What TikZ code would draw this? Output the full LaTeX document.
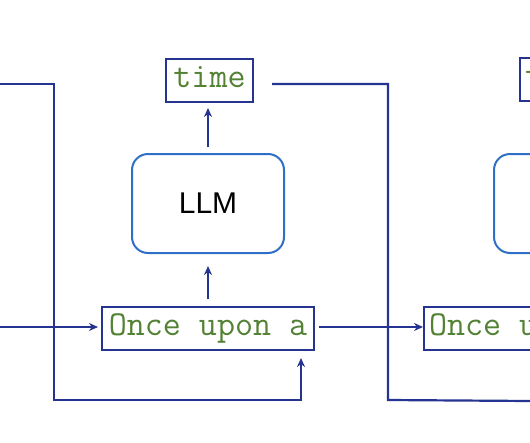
\documentclass[tikz,border=0pt]{standalone}
\usepackage{fontspec}
\setmainfont{Liberation Sans}
\setsansfont{Liberation Sans}
\definecolor{lnblue}{RGB}{38,52,145}
\definecolor{llmblue}{RGB}{46,112,200}
\definecolor{tokgreen}{RGB}{84,130,53}
\usetikzlibrary{arrows.meta,positioning}

\begin{document}
\begin{tikzpicture}[x=1pt,y=-1pt,
  token/.style={draw=lnblue,line width=2pt,inner xsep=5pt,inner ysep=0pt,minimum height=43pt,text height=22pt,text depth=8pt,font=\fontsize{35}{35}\ttfamily,text=tokgreen},
  model/.style={draw=llmblue,line width=2pt,rounded corners=16pt,minimum width=152pt,minimum height=99pt,font=\fontsize{30}{30}\sffamily},
  link/.style={draw=lnblue,line width=2.2pt},
  arr/.style={link,-{Stealth[length=9pt,width=8pt]}}]
  \useasboundingbox (0,0) rectangle (530,442);
  \clip (0,0) rectangle (530,442);
  % First step
  \node[token,minimum width=212pt] (prompt1) at (208,328.5) {Once upon a};
  \node[model] (llm1) at (208,203.5) {LLM};
  \node[token,minimum width=87pt] (time1) at (209.5,80.5) {time};
  % Next step (cut off at the right)
  \node[token,anchor=west] (prompt2) at (423,328.5) {\makebox[286pt][l]{Once u}};
  \node[model,anchor=west] (llm2) at (493,203.5) {};
  \node[token,anchor=west] (time2) at (519,79.5) {\makebox[80pt][l]{t}};
  % Free ends
  \coordinate (inL) at (0,327);
  \coordinate (fbL) at (0,84);
  \coordinate (fbLturn) at (54,400);
  \coordinate (fbRturn) at (388,400);
  \coordinate (fbR) at (530,401);
  % Connectors
  \draw[arr,shorten >=3pt] (inL) -- (inL -| prompt1.west);
  \draw[arr,shorten >=7pt] (fbL) -| (fbLturn) -| ([xshift=-14pt]prompt1.south east);
  \draw[arr,shorten <=7pt,shorten >=12pt] (prompt1.north) -- (llm1.south);
  \draw[arr,shorten <=6pt,shorten >=5pt] (llm1.north) -- (llm1.north |- time1.south);
  \draw[link,shorten <=18pt] ([yshift=-3.5pt]time1.east) -| (fbRturn) -- (fbR);
  \draw[arr,shorten <=4pt] ([yshift=1.5pt]prompt1.east) -- ([yshift=1.5pt]prompt2.west);
\end{tikzpicture}
\end{document}
